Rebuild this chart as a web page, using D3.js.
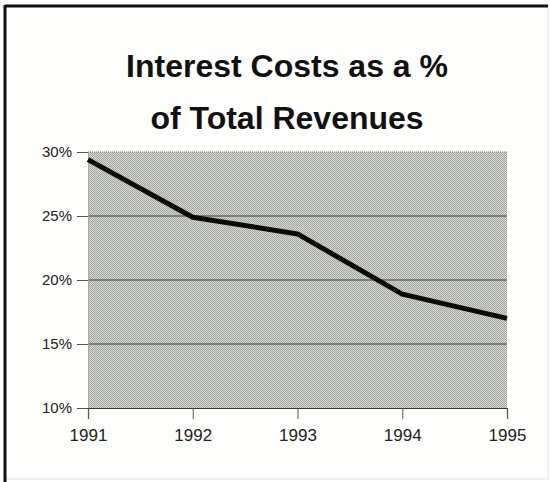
<!DOCTYPE html>
<html><head><meta charset="utf-8">
<script src="https://cdn.jsdelivr.net/npm/d3@7/dist/d3.min.js"></script>
<style>body{margin:0;background:#fff}svg{display:block}</style>
</head><body>
<script>
const years = [1991, 1992, 1993, 1994, 1995];
const values = [29.4, 24.9, 23.6, 18.9, 17.0];
const yTicks = [10, 15, 20, 25, 30];
const titleLines = ["Interest Costs as a %", "of Total Revenues"];

const W = 550, H = 482;
const svg = d3.select("body").append("svg").attr("width", W).attr("height", H);
const defs = svg.append("defs");
const pat = defs.append("pattern").attr("id", "stip").attr("patternUnits", "userSpaceOnUse")
  .attr("width", 2).attr("height", 2);
pat.append("rect").attr("width", 2).attr("height", 2).attr("fill", "#d4d6d2");
pat.append("rect").attr("width", 1).attr("height", 1).attr("fill", "#a2a4a0");
pat.append("rect").attr("x", 1).attr("y", 1).attr("width", 1).attr("height", 1).attr("fill", "#aaaca8");

// frame
svg.append("rect").attr("x", 5).attr("y", 6).attr("width", 543).attr("height", 473)
  .attr("fill", "#fdfdfb").attr("stroke", "#e0e2e0").attr("stroke-width", 1);
svg.append("line").attr("x1", 5).attr("x2", 548).attr("y1", 6).attr("y2", 6)
  .attr("stroke", "#111").attr("stroke-width", 3);
svg.append("line").attr("x1", 5).attr("x2", 5).attr("y1", 5).attr("y2", 482)
  .attr("stroke", "#111").attr("stroke-width", 3);

const fontFam = "Liberation Sans, Arial, sans-serif";
// title
svg.append("g").selectAll("text").data(titleLines).join("text")
  .attr("x", 287).attr("y", (d, i) => 77 + i * 52)
  .attr("text-anchor", "middle")
  .style("font-family", fontFam)
  .style("font-weight", "bold").style("font-size", "32px").attr("fill", "#111")
  .text(d => d);

const x = d3.scalePoint().domain(years).range([88, 507]);
const y = d3.scaleLinear().domain([10, 30]).range([408, 152]);

// plot background
svg.append("rect").attr("x", x(1991)).attr("y", y(30)).attr("width", x(1995) - x(1991))
  .attr("height", y(10) - y(30)).attr("fill", "url(#stip)");

// gridlines
svg.append("g").selectAll("line").data(yTicks.filter(d => d > 10 && d < 30)).join("line")
  .attr("x1", x(1991)).attr("x2", x(1995)).attr("y1", d => y(d)).attr("y2", d => y(d))
  .attr("stroke", "#3c4240").attr("stroke-width", 1.2);
svg.append("line").attr("x1", x(1991)).attr("x2", x(1995)).attr("y1", y(30)).attr("y2", y(30))
  .attr("stroke", "#6a6e6a").attr("stroke-width", 1).attr("stroke-dasharray", "1,1");

// y axis
const yAxis = svg.append("g").attr("transform", `translate(${x(1991)},0)`)
  .call(d3.axisLeft(y).tickValues(yTicks).tickFormat(d => d + "%").tickSize(11).tickPadding(5));
yAxis.attr("font-size", null).attr("font-family", null);
yAxis.select(".domain").attr("stroke", "#a8aaa8").attr("stroke-width", 1);
yAxis.selectAll(".tick line").attr("stroke", "#555");
yAxis.selectAll("text").style("font-family", fontFam).style("font-size", "15px").attr("fill", "#222");

// x axis
const xAxis = svg.append("g").attr("transform", `translate(0,${y(10)})`)
  .call(d3.axisBottom(x).tickSize(11).tickPadding(10));
xAxis.attr("font-size", null).attr("font-family", null);
xAxis.select(".domain").attr("stroke", "#333").attr("stroke-width", 1.2);
xAxis.selectAll(".tick line").attr("stroke", "#555");
xAxis.selectAll("text").style("font-family", fontFam).style("font-size", "17px").attr("fill", "#222");

// line
const line = d3.line().x((d, i) => x(years[i])).y(d => y(d));
svg.append("path").datum(values).attr("d", line).attr("fill", "none")
  .attr("stroke", "#0a0a0a").attr("stroke-width", 5).attr("stroke-linejoin", "round");
</script>
</body></html>
